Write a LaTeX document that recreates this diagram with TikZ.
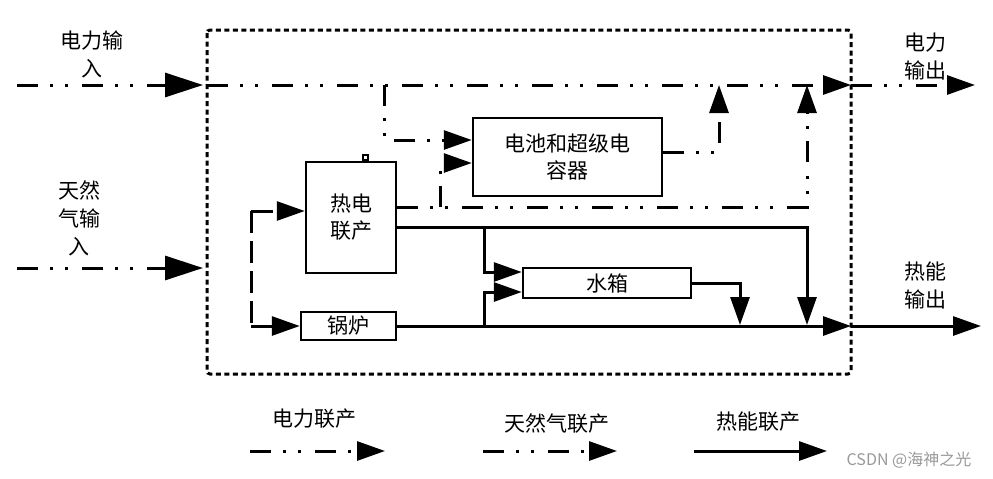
\documentclass[tikz,border=0pt]{standalone}
\usepackage{fontspec}
\newfontfamily\cjk{Noto Sans CJK SC}
\usetikzlibrary{arrows.meta}
\tikzset{
  pline/.style={line width=3pt, dash pattern=on 21pt off 12pt on 3pt off 12pt on 3pt off 14pt},
  gline/.style={line width=3pt, dash pattern=on 22pt off 8pt},
  hline/.style={line width=3pt},
  outerbox/.style={line width=3pt, dash pattern=on 5pt off 3.5pt, rounded corners=3pt},
  unit/.style={draw, line width=2.5pt, inner sep=0pt, align=center, font=\cjk\fontsize{21}{27}\selectfont},
  lbl/.style={align=center, inner sep=0pt, font=\cjk\fontsize{21}{28}\selectfont},
  bigtip/.tip={Triangle[length=38pt,width=24pt]},
  midtip/.tip={Triangle[length=28pt,width=19pt]},
}
\begin{document}
\begin{tikzpicture}[x=1pt,y=-1pt]
\useasboundingbox (0,0) rectangle (993,479);

% outer dotted boundary
\draw[outerbox] (207,30) rectangle (851,374);

% units
\node[unit, minimum width=90pt, minimum height=111pt] (chp) at (351,217.5) {热电\\联产};
\node[draw, line width=2pt, minimum width=5pt, minimum height=5pt, inner sep=0pt, anchor=south] (bump) at (365.5,161) {};
\node[unit, minimum width=95pt, minimum height=28pt] (boil) at (348.5,326) {锅炉};
\node[unit, minimum width=189pt, minimum height=78pt] (bat) at (567.5,157) {电池和超级电\\容器};
\node[unit, minimum width=168pt, minimum height=30pt] (tank) at (607,283) {水箱};

% labels
\node[lbl] (lpin) at (92,54) {电力输\\入};
\node[lbl] (lgin) at (79,218) {天然\\气输\\入};
\node[lbl] (lpout) at (925,57) {电力\\输出};
\node[lbl] (lhout) at (925,285) {热能\\输出};

% coordinates
\coordinate (pinS) at (17,85);
\coordinate (pinE) at (203,85);
\coordinate (busS) at (207,85);
\coordinate (busE) at (851,85);
\coordinate (poutE) at (975,85);
\coordinate (ginS) at (17,268);
\coordinate (ginE) at (203,268);
\coordinate (tap1) at (384,85);
\coordinate (tap2) at (807,85);
\coordinate (tap3) at (719,85);
\coordinate (br1) at (440,207);
\coordinate (gtop) at (251,211);
\coordinate (gbot) at (251,326);
\coordinate (hout) at (851,326);
\coordinate (hend) at (981,326);
\coordinate (hd1) at (740,325);
\coordinate (hd2) at (807,325);
\coordinate (t1) at (484,227);
\coordinate (t2) at (484,326);

% power flows
\draw[pline,-bigtip] (pinS) -- (pinE);
\draw[pline,-midtip] (busS) -- (busE);
\draw[pline,-midtip] (busE) -- (poutE);
\draw[pline,-midtip] (tap1) |- ([yshift=17pt]bat.west);
\draw[pline,-midtip] ([yshift=10.5pt]chp.east) -| (tap2);
\draw[pline,-midtip] (br1) |- ([yshift=-6pt]bat.west);
\draw[pline,-midtip] ([yshift=5pt]bat.east) -| (tap3);

% gas flows
\draw[pline,-bigtip] (ginS) -- (ginE);
\draw[gline] (gtop) -- (gbot);
\draw[gline,-midtip] (gtop) -- ([yshift=6.5pt]chp.west);
\draw[gline,-midtip] (gbot) -- (boil.west);

% heat flows
\draw[hline,-midtip] (boil.east) -- (hout);
\draw[hline,-midtip] (hout) -- (hend);
\draw[hline,-midtip] ([yshift=-9.5pt]chp.east) -| (hd2);
\draw[hline,-midtip] (t1) |- ([yshift=11pt]tank.west);
\draw[hline,-midtip] (t2) |- ([yshift=-9pt]tank.west);
\draw[hline,-midtip] (tank.east) -| (hd1);

% legend
\coordinate (lpS) at (250,451);
\coordinate (lpE) at (385,451);
\coordinate (lgS) at (483,451);
\coordinate (lgE) at (617,451);
\coordinate (lhS) at (694,451);
\coordinate (lhE) at (827,451);
\draw[pline,-midtip] (lpS) -- (lpE);
\draw[pline,-midtip] (lgS) -- (lgE);
\draw[hline,-midtip] (lhS) -- (lhE);
\node[lbl] (legp) at (314,419) {电力联产};
\node[lbl] (legg) at (557,424) {天然气联产};
\node[lbl] (legh) at (758,422) {热能联产};

% watermark
\node[lbl, text=black!40, font=\cjk\fontsize{16}{20}\selectfont] (wm) at (909,460) {CSDN @海神之光};
\end{tikzpicture}
\end{document}
